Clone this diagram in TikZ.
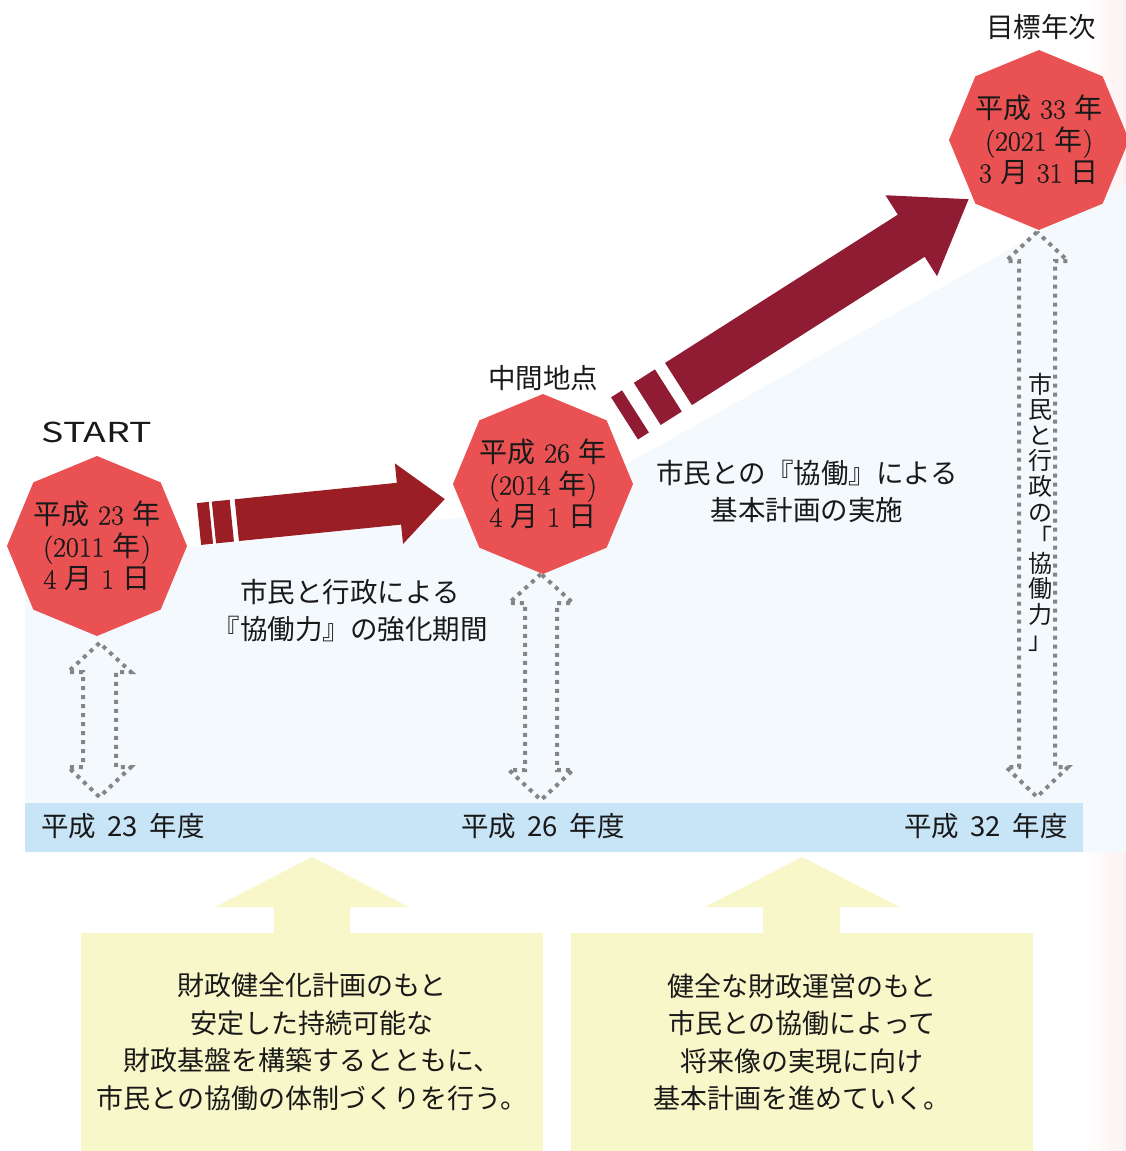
\documentclass[tikz,border=0pt]{standalone}
\usepackage{fontspec}
\newfontfamily\jp{Noto Sans CJK JP}
\newfontfamily\numf{Latin Modern Roman}[FakeBold=0.7]
\usetikzlibrary{shapes.geometric}
\definecolor{octred}{HTML}{E95152}
\definecolor{arrA}{HTML}{9A1E23}
\definecolor{arrB}{HTML}{901C34}
\definecolor{lightbg}{HTML}{F4F9FD}
\definecolor{bandc}{HTML}{C8E5F7}
\definecolor{yel}{HTML}{F8F7C9}
\definecolor{dotg}{HTML}{858585}
\definecolor{pinkbg}{HTML}{FCF1F1}
\newcommand{\dotdarrow}[5]{%
  \draw[dotline] (#1,#2) -- ({#1-#5},{#2+29}) -- ({#1-#4},{#2+29}) -- ({#1-#4},{#3-30}) -- ({#1-#5},{#3-30}) -- (#1,#3) -- ({#1+#5},{#3-30}) -- ({#1+#4},{#3-30}) -- ({#1+#4},{#2+29}) -- ({#1+#5},{#2+29}) -- cycle;}
\newcommand{\gapsp}{\hspace{0.42em}}
\begin{document}
\begin{tikzpicture}[x=1pt,y=-1pt,
  octo/.style={regular polygon, regular polygon sides=8, shape border rotate=22.5,
    minimum size=180pt, inner sep=-14pt, outer sep=0pt, fill=octred, align=center, text=black!90,
    font=\numf\fontsize{28}{32}\selectfont},
  lbl/.style={align=center, font=\jp\fontsize{27.5}{37}\selectfont, inner sep=0pt, text=black!90},
  vlbl/.style={align=center, font=\jp\fontsize{24}{25.6}\selectfont, inner sep=0pt, text=black!90},
  ybox/.style={fill=yel, inner sep=0pt, align=center, font=\jp\fontsize{27}{37.5}\selectfont, text=black!90},
  bandbox/.style={fill=bandc, inner sep=0pt},
  dotline/.style={draw=dotg, line width=4pt, dash pattern=on 4pt off 5pt},
  arrowA/.style={fill=arrA},
  arrowB/.style={fill=arrB}]
\useasboundingbox (0,0) rectangle (1126,1151);
% backgrounds
\shade[left color=white, right color=pinkbg] (1084,0) rectangle (1126,1151);
\fill[lightbg] (25,565) -- (548,508) -- (1126,184) -- (1126,852) -- (25,852) -- cycle;
\node[bandbox, minimum width=1058pt, minimum height=49pt] (band) at (554,827.5) {};
% yellow arrows and boxes
\fill[yel] (274,905) rectangle (350,934);
\fill[yel] (215,907) -- (409,907) -- (312,857) -- cycle;
\fill[yel] (763,905) rectangle (840,934);
\fill[yel] (705,907) -- (900,907) -- (802,857) -- cycle;
\node[ybox, minimum width=462pt, minimum height=218pt] (b1) at (312,1042)
  {財政健全化計画のもと\\安定した持続可能な\\財政基盤を構築するとともに、\\市民との協働の体制づくりを行う。};
\node[ybox, minimum width=462pt, minimum height=218pt] (b2) at (802,1042)
  {健全な財政運営のもと\\市民との協働によって\\将来像の実現に向け\\基本計画を進めていく。};
% dotted double arrows
\dotdarrow{99.5}{643}{797}{16.5}{31.5}
\dotdarrow{541}{574}{800}{16}{32}
\dotdarrow{1037}{232}{797}{18}{31}
% red arrows
\begin{scope}[shift={(199,524)}, rotate=5.8]
  \fill[arrowA] (0,-21) rectangle (12,21);
  \fill[arrowA] (15,-21) rectangle (33,21);
  \fill[arrowA] (38,-21) -- (201,-21) -- (201,-40.5) -- (247,0) -- (201,40.5) -- (201,21) -- (38,21) -- cycle;
\end{scope}
\begin{scope}[shift={(624.5,418.4)}, rotate=32.5]
  \fill[arrowB] (0,-25) rectangle (13,25);
  \fill[arrowB] (27,-25) rectangle (52,25);
  \fill[arrowB] (64,-25) -- (340,-25) -- (340,-48) -- (408,0) -- (340,48) -- (340,25) -- (64,25) -- cycle;
\end{scope}
% octagons
\node[octo] (o1) at (97,546) {{\jp 平成} 23 {\jp 年}\\({2011} {\jp 年})\\4 {\jp 月} 1 {\jp 日}};
\node[octo] (o2) at (543,484) {{\jp 平成} 26 {\jp 年}\\({2014} {\jp 年})\\4 {\jp 月} 1 {\jp 日}};
\node[octo] (o3) at (1039,140) {{\jp 平成} 33 {\jp 年}\\({2021} {\jp 年})\\3 {\jp 月} 31 {\jp 日}};
% labels
\node[lbl] (start) at (97,432) {\scalebox{1.36}[1]{START}};
\node[lbl] (mid) at (543,378) {中間地点};
\node[lbl] (goal) at (1041,27) {目標年次};
\node[lbl] (l1) at (350,611) {市民と行政による\\『協働力』の強化期間};
\node[lbl] (l2) at (807,491) {市民との『協働』による\\基本計画の実施};
\node[vlbl] (vt) at (1040,512) {市\\民\\と\\行\\政\\の\\「\\協\\働\\力\\」};
\node[lbl] (y1) at (123,826) {平成\gapsp 23\gapsp 年度};
\node[lbl] (y2) at (543,826) {平成\gapsp 26\gapsp 年度};
\node[lbl] (y3) at (986,826) {平成\gapsp 32\gapsp 年度};
\end{tikzpicture}
\end{document}
